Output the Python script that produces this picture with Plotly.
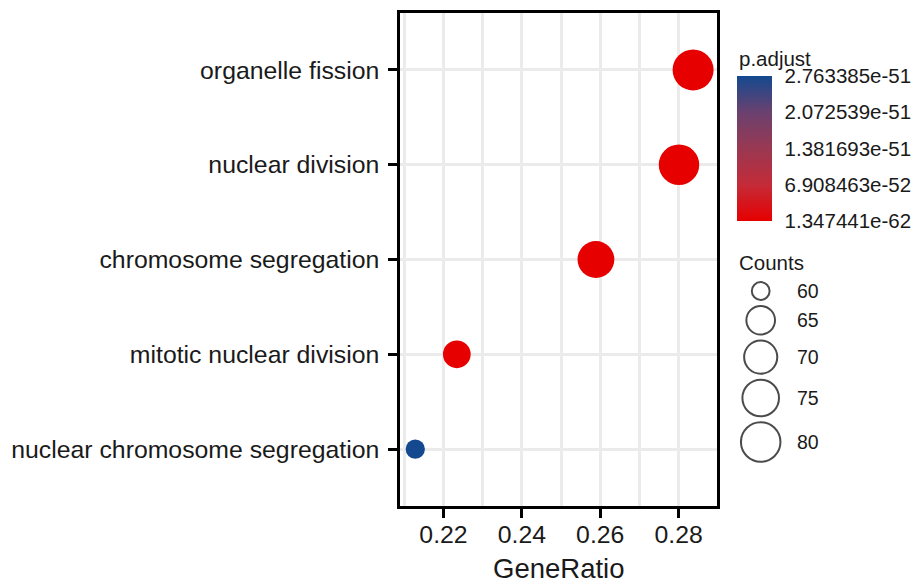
import numpy as np
import plotly.graph_objects as go

# GO enrichment results
terms = [
    "nuclear chromosome segregation",
    "mitotic nuclear division",
    "chromosome segregation",
    "nuclear division",
    "organelle fission",
]
gene_ratio = [0.2128, 0.2234, 0.2589, 0.2801, 0.2837]
counts = [60, 63, 73, 79, 80]
p_adjust = [2.763385e-51, 4.1e-54, 3.2e-56, 1.6e-61, 1.347441e-62]

# colour bar labels
cbar_tickvals = [1.347441e-62, 6.908463e-52, 1.381693e-51, 2.072539e-51, 2.763385e-51]
cbar_ticktext = ["1.347441e-62", "6.908463e-52", "1.381693e-51", "2.072539e-51", "2.763385e-51"]

# size legend breaks
size_breaks = [60, 65, 70, 75, 80]

W, H = 917, 584
ML, MR, MT, MB = 400, 10, 13, 78
PW = W - ML - MR
PH = H - MT - MB
PANEL_W = 317

D_MIN, D_MAX = 19.3, 41.0
c_lo, c_hi = min(counts), max(counts)


def diam(c):
    return D_MIN + (D_MAX - D_MIN) * np.sqrt((np.asarray(c, float) - c_lo) / (c_hi - c_lo))


def px_x(p):
    return (p - ML) / PW


def px_y(p):
    return 1 - (p - MT) / PH


colorscale = [
    [0.0, "#E60000"],
    [0.25, "#C42B38"],
    [0.5, "#993852"],
    [0.75, "#6A416F"],
    [1.0, "#14498F"],
]

FONT = "Liberation Sans, Arial, sans-serif"
TXT = "#1a1a1a"

# colour bar geometry (pixels)
CB_LEFT, CB_TOP, CB_BOTTOM, CB_THICK = 737, 75.7, 221, 35

fig = go.Figure()

fig.add_trace(go.Scatter(
    x=gene_ratio, y=terms, mode="markers",
    marker=dict(
        size=diam(counts), color=p_adjust, colorscale=colorscale,
        cmin=min(p_adjust), cmax=max(p_adjust), line=dict(width=0), opacity=1,
        colorbar=dict(
            x=px_x(CB_LEFT), xanchor="left", xpad=0,
            y=px_y((CB_TOP + CB_BOTTOM) / 2), yanchor="middle", ypad=0,
            len=CB_BOTTOM - CB_TOP, lenmode="pixels", thickness=CB_THICK,
            outlinewidth=0,
            tickvals=cbar_tickvals, ticktext=cbar_ticktext,
            ticks="outside", ticklen=9, tickcolor="rgba(0,0,0,0)", tickwidth=1,
            tickfont=dict(family=FONT, size=20.5, color=TXT),
        ),
    ),
    showlegend=False, hoverinfo="skip",
))

# size legend: circles placed on their own axis, stacked by diameter
leg_d = diam(size_breaks)
gap = 4.5
centers = [leg_d[0] / 2]
for i in range(1, len(leg_d)):
    centers.append(centers[-1] + (leg_d[i - 1] + leg_d[i]) / 2 + gap)
top_pad = 291 - 275 - leg_d[0] / 2
centers = [c + top_pad for c in centers]

LEG_X0, LEG_X1, LEG_Y0, LEG_Y1 = 740, 830, 275, 470
fig.add_trace(go.Scatter(
    x=[20.7] * len(size_breaks), y=centers, mode="markers",
    marker=dict(size=leg_d - 1.5, color="white", line=dict(color="black", width=2)),
    xaxis="x2", yaxis="y2", showlegend=False, hoverinfo="skip",
))
for yc, b in zip(centers, size_breaks):
    fig.add_annotation(x=55, y=yc, xref="x2", yref="y2", text=str(b),
                       showarrow=False, xanchor="left", yanchor="middle",
                       font=dict(family=FONT, size=19.5, color=TXT))

# white tick marks across both edges of the colour bar
for v in cbar_tickvals[1:-1]:
    frac = (v - cbar_tickvals[0]) / (cbar_tickvals[-1] - cbar_tickvals[0])
    ypix = CB_BOTTOM - frac * (CB_BOTTOM - CB_TOP)
    for xa, xb in [(CB_LEFT, CB_LEFT + 6), (CB_LEFT + CB_THICK - 6, CB_LEFT + CB_THICK)]:
        fig.add_shape(type="line", xref="paper", yref="paper",
                      x0=px_x(xa), x1=px_x(xb), y0=px_y(ypix), y1=px_y(ypix),
                      line=dict(color="white", width=2))

fig.add_annotation(x=px_x(737), y=px_y(58), xref="paper", yref="paper",
                   text="p.adjust", showarrow=False, xanchor="left", yanchor="middle",
                   font=dict(family=FONT, size=20.5, color=TXT))
fig.add_annotation(x=px_x(737), y=px_y(262), xref="paper", yref="paper",
                   text="Counts", showarrow=False, xanchor="left", yanchor="middle",
                   font=dict(family=FONT, size=20.5, color=TXT))

# x-axis title
fig.add_annotation(x=px_x(558.5), y=px_y(568), xref="paper", yref="paper",
                   text="GeneRatio", showarrow=False, xanchor="center", yanchor="middle",
                   font=dict(family=FONT, size=27.5, color=TXT))

axis_common = dict(showline=True, linecolor="black", linewidth=2.5, mirror=True,
                   ticks="outside", ticklen=9, tickwidth=2.5, tickcolor="black",
                   gridcolor="#EBEBEB", gridwidth=2.5, zeroline=False,
                   automargin=False,
                   tickfont=dict(family=FONT, size=24.8, color=TXT))

fig.update_layout(
    width=W, height=H,
    margin=dict(l=ML, r=MR, t=MT, b=MB, autoexpand=False),
    paper_bgcolor="white", plot_bgcolor="white",
    xaxis=dict(
        domain=[0, PANEL_W / PW], range=[0.2089, 0.2898],
        tickvals=[0.22, 0.24, 0.26, 0.28], ticktext=["0.22", "0.24", "0.26", "0.28"],
        minor=dict(tickvals=[0.21, 0.23, 0.25, 0.27], showgrid=True,
                   gridcolor="#EBEBEB", gridwidth=2.5, ticks=""),
        ticklabelstandoff=-5,
        **axis_common,
    ),
    yaxis=dict(
        categoryorder="array", categoryarray=terms, range=[-0.6, 4.6],
        ticklabelstandoff=4,
        **axis_common,
    ),
    xaxis2=dict(domain=[px_x(LEG_X0), px_x(LEG_X1)], range=[0, LEG_X1 - LEG_X0],
                visible=False, anchor="y2", fixedrange=True),
    yaxis2=dict(domain=[px_y(LEG_Y1), px_y(LEG_Y0)], range=[LEG_Y1 - LEG_Y0, 0],
                visible=False, anchor="x2", fixedrange=True),
)

fig.write_html("out.html")
